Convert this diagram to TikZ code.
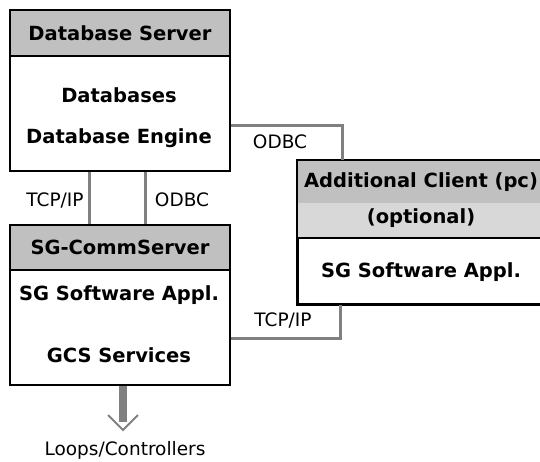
\documentclass[tikz,border=0pt]{standalone}
\usepackage{fontspec}
\setmainfont{DejaVu Sans}
\definecolor{hdrgray}{RGB}{192,192,192}
\definecolor{optgray}{RGB}{216,216,216}
\definecolor{linkgray}{RGB}{128,128,128}
\tikzset{>=stealth}
\tikzset{
  box/.style={draw=black, line width=2pt, inner sep=0pt, anchor=north west, fill=white},
  hdr/.style={box, fill=hdrgray, font=\bfseries\fontsize{19.5}{22}\selectfont},
  opt/.style={inner sep=0pt, anchor=north west, fill=optgray},
  bold/.style={font=\bfseries\fontsize{19.5}{22}\selectfont, inner sep=0pt},
  lbl/.style={font=\fontsize{18.5}{21}\selectfont, inner sep=0pt},
  link/.style={draw=linkgray, line width=3pt},
  feed/.style={draw=linkgray, line width=8pt},
  barb/.style={draw=linkgray, line width=2pt}
}

\begin{document}
\begin{tikzpicture}[x=1pt, y=-1pt]
    \useasboundingbox (0,0) rectangle (540,461);
    % database server
    \node[hdr, minimum width=220pt, minimum height=46pt] (dbh) at (9,9) {Database Server};
    \node[box, minimum width=220pt, minimum height=115pt] (dbb) at (9,55) {};
    \node[bold] (dbs) at (119,95) {Databases};
    \node[bold] (dbe) at (119,138) {Database Engine};
    % comm server
    \node[hdr, minimum width=220pt, minimum height=45pt] (csh) at (9,224) {SG-CommServer};
    \node[box, minimum width=220pt, minimum height=115pt] (csb) at (9,269) {};
    \node[bold] (csa) at (119,295) {SG Software Appl.};
    \node[bold] (csg) at (119,355) {GCS Services};
    % additional client
    \node[opt, fill=hdrgray, minimum width=246pt, minimum height=43pt] (ach) at (297,160) {};
    \node[opt, minimum width=246pt, minimum height=34pt] (aco) at (297,203) {};
    \node[box, minimum width=246pt, minimum height=66pt] (acb) at (297,237) {};
    \draw[line width=2pt] (ach.north west) rectangle (acb.south east);
    \node[bold] (act) at (421,182) {Additional Client (pc)};
    \node[bold] (acn) at (421,218) {(optional)};
    \node[bold] (aca) at (421,272) {SG Software Appl.};
    % links
    \draw[link] ([xshift=80pt]dbb.south west) -- ([xshift=80pt]csh.north west);
    \draw[link] ([xshift=136pt]dbb.south west) -- ([xshift=136pt]csh.north west);
    \draw[link] ([yshift=-11.5pt]dbb.east) -| ([xshift=45pt]ach.north west);
    \draw[link] ([yshift=-10.5pt]csb.east) -| ([xshift=43pt]acb.south west);
    \node[lbl] (tcp1) at (55,200) {TCP/IP};
    \node[lbl] (odbc1) at (182,200) {ODBC};
    \node[lbl] (odbc2) at (280,142) {ODBC};
    \node[lbl] (tcp2) at (283,320) {TCP/IP};
    % output
    \coordinate (tip) at (123,430);
    \draw[feed] ([xshift=114pt]csb.south west) -- ([yshift=8pt]tip);
    \draw[barb] ([shift={(-15pt,15pt)}]tip) -- (tip) -- ([shift={(15pt,15pt)}]tip);
    \node[lbl] (loops) at (125,450) {Loops/Controllers};
\end{tikzpicture}
\end{document}
